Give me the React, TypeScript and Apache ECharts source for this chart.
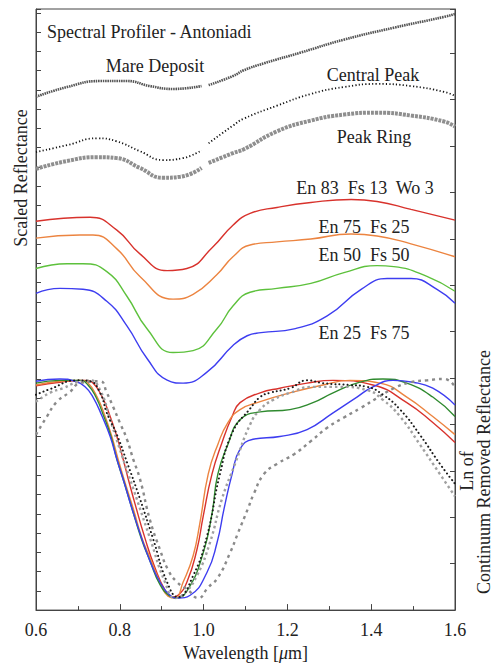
import { useEffect, useRef } from "react";
import * as echarts from "echarts";

const FONT = "Liberation Serif, Times New Roman, Times, serif";
const INK = "#222";

// Wavelength axis ticks (µm)
const xTicks = [0.6, 0.8, 1.0, 1.2, 1.4, 1.6];

// ---- Upper panel: scaled reflectance (left axis units, one tick = 1) ----
const mareDeposit: any[] = [[0.6, 26.64], [0.674, 27.15], [0.753, 27.46], [0.817, 27.46], [0.872, 27.2], [0.927, 27.05], [0.995, 27.2], [1.003, "-"], [1.012, 27.25], [1.07, 27.72], [1.096, 28.02], [1.144, 28.38], [1.232, 28.94], [1.335, 29.61], [1.454, 30.23], [1.574, 30.79], [1.6, 30.94]];
const centralPeak: any[] = [[0.6, 23.77], [0.674, 24.13], [0.746, 24.49], [0.793, 24.33], [0.848, 23.82], [0.903, 23.36], [0.951, 23.46], [0.995, 23.87], [1.003, "-"], [1.012, 24.23], [1.07, 25.15], [1.096, 25.51], [1.175, 26.18], [1.256, 26.79], [1.335, 27.15], [1.414, 27.31], [1.495, 27.2], [1.574, 26.9], [1.6, 26.69]];
const peakRing: any[] = [[0.6, 22.9], [0.674, 23.31], [0.746, 23.51], [0.793, 23.46], [0.848, 22.95], [0.903, 22.44], [0.944, 22.49], [0.995, 22.95], [1.003, "-"], [1.012, 23.21], [1.07, 23.72], [1.096, 23.92], [1.175, 24.85], [1.256, 25.41], [1.335, 25.72], [1.414, 25.82], [1.495, 25.67], [1.574, 25.36], [1.6, 25.1]];
const en83: number[][] = [[0.6, 20.18], [0.729, 20.39], [0.793, 19.72], [0.848, 18.49], [0.913, 17.62], [0.96, 17.73], [1.022, 18.85], [1.07, 19.98], [1.111, 20.59], [1.175, 20.9], [1.256, 21.16], [1.352, 21.31], [1.414, 21.21], [1.495, 20.8], [1.6, 20.24]];
const en75: number[][] = [[0.6, 19.31], [0.705, 19.47], [0.736, 19.47], [0.793, 18.75], [0.848, 17.32], [0.927, 16.14], [0.975, 16.39], [1.032, 17.42], [1.07, 18.34], [1.111, 18.95], [1.175, 19.11], [1.256, 19.26], [1.352, 19.52], [1.414, 19.42], [1.495, 19.01], [1.6, 18.34]];
const en50: number[][] = [[0.6, 17.73], [0.674, 17.98], [0.712, 17.98], [0.769, 17.57], [0.817, 16.29], [0.865, 14.6], [0.927, 13.37], [0.975, 13.47], [1.032, 14.6], [1.07, 15.78], [1.111, 16.5], [1.175, 16.7], [1.256, 16.96], [1.335, 17.52], [1.414, 17.88], [1.454, 17.83], [1.533, 17.32], [1.6, 16.55]];
const en25: number[][] = [[0.6, 16.44], [0.657, 16.7], [0.712, 16.65], [0.769, 16.03], [0.817, 14.75], [0.865, 13.06], [0.913, 11.94], [0.951, 11.78], [1.008, 12.35], [1.07, 13.73], [1.104, 14.24], [1.137, 14.4], [1.216, 14.6], [1.295, 15.27], [1.376, 16.65], [1.438, 17.21], [1.495, 17.21], [1.557, 16.65], [1.6, 15.93]];

// ---- Lower panel: ln of continuum removed reflectance (right axis) ----
const lnEn83: number[][] = [[0.6, -0.017], [0.657, -0.009], [0.717, -0.005], [0.736, -0.011], [0.758, -0.041], [0.777, -0.083], [0.793, -0.126], [0.808, -0.175], [0.82, -0.217], [0.836, -0.27], [0.86, -0.345], [0.884, -0.409], [0.908, -0.457], [0.925, -0.472], [0.939, -0.468], [0.96, -0.44], [0.984, -0.37], [0.999, -0.298], [1.02, -0.207], [1.044, -0.139], [1.068, -0.083], [1.087, -0.053], [1.135, -0.032], [1.182, -0.022], [1.247, -0.011], [1.309, -0.005], [1.404, -0.015], [1.485, -0.053], [1.547, -0.096], [1.6, -0.139]];
const lnEn75: number[][] = [[0.6, -0.015], [0.657, -0.007], [0.705, -0.005], [0.724, -0.011], [0.746, -0.041], [0.765, -0.083], [0.781, -0.126], [0.796, -0.175], [0.812, -0.224], [0.832, -0.281], [0.853, -0.345], [0.872, -0.387], [0.896, -0.44], [0.915, -0.47], [0.932, -0.474], [0.951, -0.44], [0.975, -0.383], [0.991, -0.313], [1.011, -0.207], [1.034, -0.143], [1.058, -0.096], [1.087, -0.068], [1.135, -0.051], [1.206, -0.032], [1.285, -0.015], [1.349, -0.005], [1.421, -0.011], [1.485, -0.041], [1.547, -0.083], [1.6, -0.122]];
const lnEn50: number[][] = [[0.6, -0.011], [0.657, -0.005], [0.705, -0.005], [0.724, -0.015], [0.743, -0.041], [0.762, -0.083], [0.779, -0.126], [0.793, -0.175], [0.81, -0.224], [0.829, -0.281], [0.851, -0.345], [0.872, -0.394], [0.896, -0.445], [0.92, -0.47], [0.935, -0.474], [0.963, -0.455], [0.999, -0.377], [1.02, -0.292], [1.034, -0.207], [1.058, -0.143], [1.087, -0.09], [1.135, -0.073], [1.206, -0.068], [1.261, -0.053], [1.309, -0.032], [1.373, -0.009], [1.428, -0.002], [1.485, -0.011], [1.547, -0.041], [1.6, -0.083]];
const lnEn25: number[][] = [[0.6, -0.007], [0.657, -0.002], [0.693, -0.007], [0.717, -0.019], [0.736, -0.041], [0.758, -0.083], [0.777, -0.126], [0.793, -0.175], [0.81, -0.224], [0.829, -0.281], [0.848, -0.334], [0.872, -0.394], [0.896, -0.44], [0.92, -0.468], [0.939, -0.474], [0.968, -0.468], [1.008, -0.419], [1.032, -0.355], [1.049, -0.281], [1.068, -0.207], [1.087, -0.153], [1.118, -0.132], [1.182, -0.126], [1.247, -0.111], [1.309, -0.075], [1.366, -0.041], [1.404, -0.019], [1.452, -0.005], [1.5, -0.009], [1.547, -0.022], [1.6, -0.058]];
const lnCentralPeak: number[][] = [[0.6, -0.036], [0.633, -0.024], [0.698, -0.005], [0.729, -0.007], [0.753, -0.032], [0.769, -0.075], [0.793, -0.122], [0.817, -0.181], [0.848, -0.26], [0.879, -0.345], [0.913, -0.44], [0.939, -0.472], [0.975, -0.426], [1.008, -0.341], [1.039, -0.207], [1.07, -0.115], [1.111, -0.066], [1.135, -0.041], [1.158, -0.032], [1.206, -0.022], [1.247, -0.005], [1.285, -0.011], [1.349, -0.015], [1.39, -0.019], [1.428, -0.036], [1.469, -0.068], [1.516, -0.122], [1.564, -0.185], [1.6, -0.228]];
const lnPeakRing: number[][] = [[0.6, -0.051], [0.633, -0.032], [0.664, -0.022], [0.698, -0.009], [0.729, -0.005], [0.753, -0.026], [0.777, -0.09], [0.8, -0.153], [0.832, -0.238], [0.872, -0.345], [0.908, -0.44], [0.932, -0.474], [0.956, -0.462], [0.984, -0.426], [1.015, -0.355], [1.044, -0.26], [1.075, -0.185], [1.111, -0.1], [1.135, -0.068], [1.166, -0.047], [1.206, -0.032], [1.261, -0.019], [1.326, -0.019], [1.39, -0.026], [1.428, -0.047], [1.469, -0.083], [1.516, -0.143], [1.564, -0.207], [1.6, -0.255]];
const lnMareDeposit: number[][] = [[0.6, -0.122], [0.626, -0.083], [0.65, -0.051], [0.681, -0.03], [0.705, -0.011], [0.753, -0.007], [0.769, -0.032], [0.784, -0.062], [0.8, -0.096], [0.817, -0.132], [0.832, -0.175], [0.848, -0.217], [0.872, -0.306], [0.896, -0.37], [0.915, -0.413], [0.937, -0.44], [0.963, -0.457], [0.987, -0.474], [1.011, -0.451], [1.034, -0.43], [1.063, -0.377], [1.082, -0.334], [1.106, -0.281], [1.12, -0.249], [1.144, -0.207], [1.175, -0.185], [1.216, -0.164], [1.256, -0.136], [1.295, -0.107], [1.335, -0.085], [1.376, -0.064], [1.414, -0.043], [1.454, -0.022], [1.495, -0.009], [1.533, -0.005], [1.574, -0.002], [1.6, -0.019]];

const RED = "#d8322c";
const ORANGE = "#ec8440";
const GREEN_TOP = "#5dc13c";
const GREEN_LOW = "#2f8a2f";
const BLUE = "#3d3df0";

function line(data: any[], yAxisIndex: number, lineStyle: any, z = 2) {
  return {
    type: "line",
    data,
    yAxisIndex,
    symbol: "none",
    smooth: 0.5,
    smoothConstraint: false,
    connectNulls: false,
    silent: true,
    z,
    lineStyle,
  };
}

function label(text: string, x: number, y: number, align = "center", rotation = 0, size = 18) {
  return {
    type: "text",
    x,
    y,
    rotation,
    z: 10,
    style: {
      text,
      fill: INK,
      fontFamily: FONT,
      fontSize: size,
      align,
      verticalAlign: "middle",
    },
  };
}

export default function App() {
  const ref = useRef<HTMLDivElement>(null);
  useEffect(() => {
    if (!ref.current) return;
    const chart = echarts.init(ref.current, undefined, { renderer: "svg" });
    chart.setOption({
      animation: false,
      backgroundColor: "#fff",
      textStyle: { fontFamily: FONT },
      grid: { left: 36, right: 39, top: 9, bottom: 49, show: true, borderColor: "#444", borderWidth: 1 },
      xAxis: {
        type: "value",
        min: xTicks[0],
        max: xTicks[xTicks.length - 1],
        interval: 0.2,
        axisLine: { lineStyle: { color: "#444" } },
        axisTick: { inside: true, length: 6, lineStyle: { color: "#444" } },
        minorTick: { show: true, splitNumber: 2, length: 4, lineStyle: { color: "#444" } },
        splitLine: { show: false },
        axisLabel: { margin: 11, color: INK, fontFamily: FONT, fontSize: 18, formatter: (v: number) => v.toFixed(1) },
        name: "{a|Wavelength [}{i|\u03bc}{a|m]}",
        nameLocation: "middle",
        nameGap: 27,
        nameTextStyle: {
          color: INK,
          fontFamily: FONT,
          fontSize: 18,
          rich: {
            a: { fontFamily: FONT, fontSize: 18, color: INK },
            i: { fontFamily: FONT, fontSize: 18, color: INK, fontStyle: "italic" },
          },
        },
      },
      yAxis: [
        {
          type: "value",
          min: 0,
          max: 31.2,
          interval: 1,
          position: "left",
          axisLine: { show: true, lineStyle: { color: "#444" } },
          axisTick: { show: true, inside: true, length: 5, lineStyle: { color: "#444" } },
          axisLabel: { show: false },
          splitLine: { show: false },
        },
        {
          type: "value",
          min: -0.5,
          max: 0.795,
          interval: 0.1,
          position: "right",
          axisLine: { show: true, lineStyle: { color: "#444" } },
          axisTick: { show: true, inside: true, length: 5, lineStyle: { color: "#444" } },
          axisLabel: { show: false },
          splitLine: { show: false },
        },
      ],
      series: [
        line(mareDeposit, 0, { color: "#555", width: 2.6, type: [1.5, 0.8] }),
        line(centralPeak, 0, { color: "#111", width: 1.8, type: [1.2, 2.2] }),
        line(peakRing, 0, { color: "#8f8f8f", width: 4, type: [3, 1] }),
        line(en83, 0, { color: RED, width: 1.4 }),
        line(en75, 0, { color: ORANGE, width: 1.4 }),
        line(en50, 0, { color: GREEN_TOP, width: 1.4 }),
        line(en25, 0, { color: BLUE, width: 1.4 }),
        line(lnEn83, 1, { color: RED, width: 1.4 }),
        line(lnEn75, 1, { color: ORANGE, width: 1.4 }),
        line(lnEn50, 1, { color: GREEN_LOW, width: 1.4 }),
        line(lnEn25, 1, { color: BLUE, width: 1.4 }),
        line(lnMareDeposit, 1, { color: "#8a8a8a", width: 2.4, type: [3, 4] }, 3),
        line(lnPeakRing, 1, { color: "#a0a0a0", width: 2.4, type: [2.5, 3] }, 3),
        line(lnCentralPeak, 1, { color: "#1a1a1a", width: 2, type: [0.1, 4], cap: "round" }, 4),
      ],
      graphic: [
        label("Spectral Profiler - Antoniadi", 47, 32, "left"),
        label("Mare Deposit", 155, 66),
        label("Central Peak", 373, 75),
        label("Peak Ring", 374, 137),
        label("En 83  Fs 13  Wo 3", 365, 188),
        label("En 75  Fs 25", 364, 227),
        label("En 50  Fs 50", 364, 255),
        label("En 25  Fs 75", 364, 333),
        label("Scaled Reflectance", 21, 178, "center", Math.PI / 2),
        label("Ln of", 467, 471, "center", Math.PI / 2),
        label("Continuum Removed Reflectance", 484, 472, "center", Math.PI / 2),
      ],
    });
    return () => chart.dispose();
  }, []);
  return <div ref={ref} style={{ width: 494, height: 667, position: "absolute", left: 0, top: 0 }} />;
}
